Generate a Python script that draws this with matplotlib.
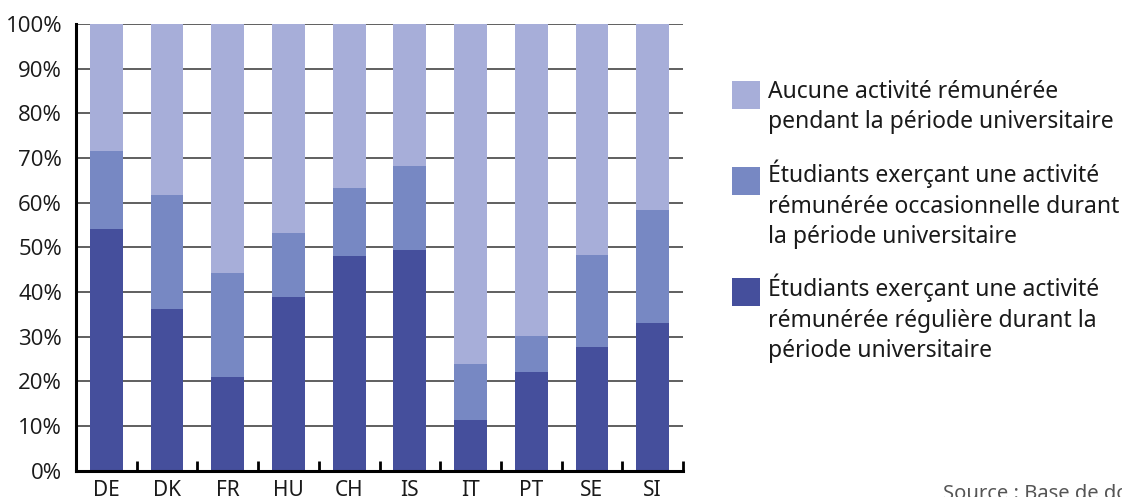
import numpy as np
import matplotlib.pyplot as plt
from matplotlib.patches import Rectangle

# Part des étudiants selon l'activité rémunérée pendant les études (%)
pays = ["DE", "DK", "FR", "HU", "CH", "IS", "IT", "PT", "SE", "SI"]
reguliere = [54.1, 36.2, 21.0, 38.9, 48.1, 49.5, 11.3, 22.1, 27.7, 33.1]
occasionnelle = [17.4, 25.5, 23.2, 14.3, 15.2, 18.7, 12.6, 8.1, 20.6, 25.3]
aucune = [28.5, 38.3, 55.8, 46.8, 36.7, 31.8, 76.1, 69.8, 51.7, 41.6]

series = [
    ("Étudiants exerçant une activité\nrémunérée régulière durant la\npériode universitaire", reguliere, "#454f9c"),
    ("Étudiants exerçant une activité\nrémunérée occasionnelle durant\nla période universitaire", occasionnelle, "#7788c3"),
    ("Aucune activité rémunérée\npendant la période universitaire", aucune, "#a7aed9"),
]

W, H = 1122, 497
fig = plt.figure(figsize=(W / 100, H / 100), dpi=100)
ax = fig.add_axes([76 / W, 1 - 470.7 / H, (683 - 76) / W, (470.7 - 24) / H])

x = np.arange(len(pays))
bottom = np.zeros(len(pays))
for label, vals, color in series:
    ax.bar(x, vals, width=0.54, bottom=bottom, color=color, zorder=3)
    bottom += np.array(vals)

ax.set_xlim(-0.5, len(pays) - 0.5)
ax.set_ylim(0, 100)
ax.set_yticks(np.arange(0, 101, 10))
ax.set_yticklabels([f"{v}%" for v in range(0, 101, 10)], fontfamily="Open Sans", fontsize=16, color="#1a1a1a")
ax.set_xticks(x)
ax.set_xticklabels(pays, fontfamily="Noto Sans", fontsize=15, color="#1a1a1a")
ax.set_xticks(np.arange(-0.5, len(pays), 1), minor=True)
ax.tick_params(axis="both", which="major", length=0)
ax.tick_params(axis="y", pad=10)
ax.tick_params(axis="x", pad=7)
ax.tick_params(axis="x", which="minor", direction="in", length=7, width=2, color="black")

ax.yaxis.grid(True, color="#444444", linewidth=1.2, zorder=0)
ax.set_axisbelow(True)
for side in ("top", "right"):
    ax.spines[side].set_visible(False)
for side in ("left", "bottom"):
    ax.spines[side].set_linewidth(2.2)
    ax.spines[side].set_color("black")
    ax.spines[side].set_zorder(4)

# légende dessinée à la main, à droite du graphique
# (position du carré, ligne de base de la dernière ligne du libellé)
legend_pos = [(81, 128), (167, 243), (278, 357)]
for (label, vals, color), (ytop_patch, ybase_last) in zip(series[::-1], legend_pos):
    fig.add_artist(Rectangle((732 / W, 1 - (ytop_patch + 28) / H), 28 / W, 28 / H,
                             facecolor=color, edgecolor="none", transform=fig.transFigure))
    fig.text(768 / W, 1 - ybase_last / H, label, fontfamily="Noto Sans", fontsize=16.5,
             color="#1a1a1a", va="baseline", ha="left", linespacing=1.36)

fig.text(943 / W, 1 - 484 / H, "Source : Base de données Eurostudent", fontfamily="Noto Sans",
         fontsize=14.5, color="#555555", va="top", ha="left")

fig.savefig("out.png", dpi=100)
